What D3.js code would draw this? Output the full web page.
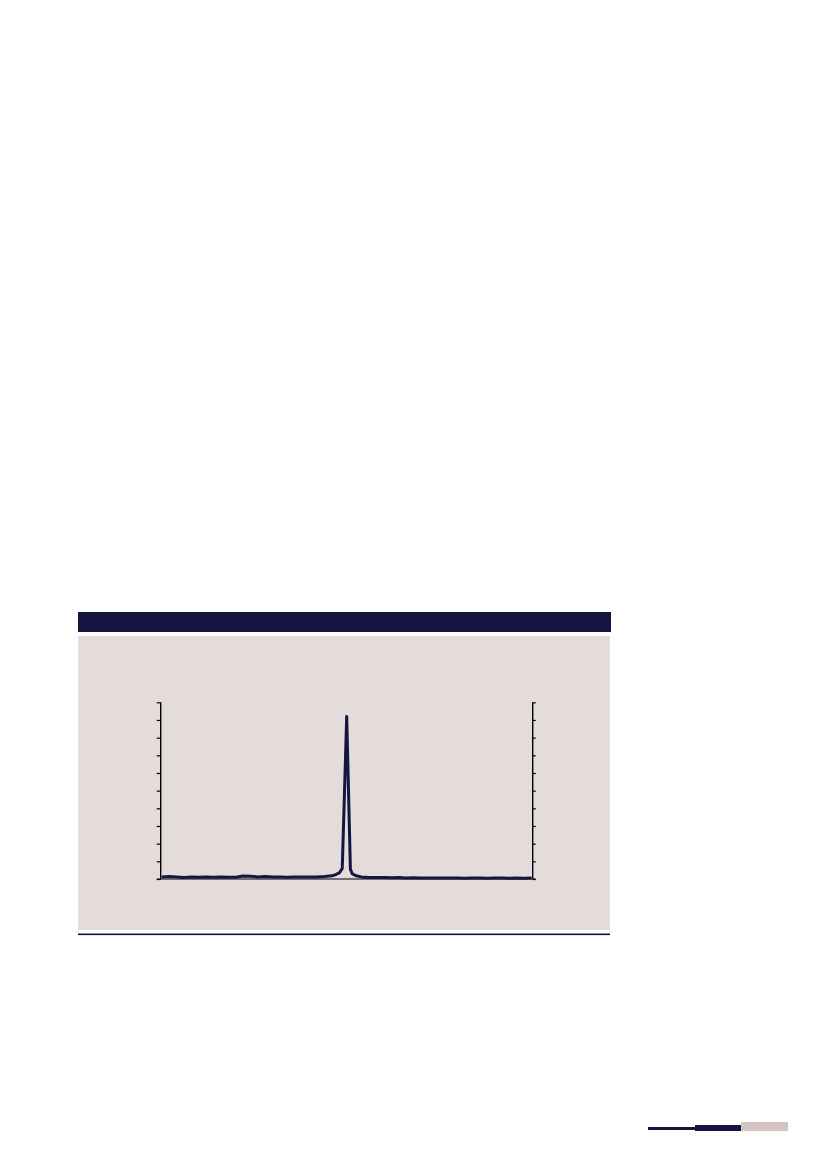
<!DOCTYPE html>
<html>
<head>
<meta charset="utf-8">
<script src="https://cdn.jsdelivr.net/npm/d3@7"></script>
<style>
    body { margin: 0; background: #ffffff; }
    svg { display: block; }
</style>
</head>
<body>
<svg width="827" height="1169"></svg>
<script>
//--------------------------DATA------------------------------------------------
// x position along the axis (0..100) and value in tick units (0..10)
var xValues = [
    0, 2, 4, 6, 8, 10, 12, 14, 16, 18, 20, 22, 24, 26, 28, 30, 32, 34, 36, 38,
    40, 42, 44, 46, 47, 48, 48.8, 50, 51, 51.5, 52.5, 54, 56, 58, 60, 62, 64, 66,
    68, 70, 72, 74, 76, 78, 80, 82, 84, 86, 88, 90, 92, 94, 96, 98, 100
];
var yValues = [
    0.12, 0.14, 0.12, 0.09, 0.12, 0.10, 0.12, 0.10, 0.11, 0.10, 0.10, 0.17, 0.15, 0.12, 0.14, 0.11, 0.12, 0.10, 0.11, 0.11,
    0.12, 0.12, 0.14, 0.18, 0.25, 0.35, 0.60, 9.20, 0.55, 0.30, 0.18, 0.12, 0.09, 0.08, 0.08, 0.07, 0.08, 0.06,
    0.07, 0.06, 0.05, 0.06, 0.05, 0.06, 0.05, 0.04, 0.06, 0.05, 0.04, 0.05, 0.06, 0.04, 0.05, 0.04, 0.05
];
var yTicks = [0, 1, 2, 3, 4, 5, 6, 7, 8, 9, 10];

var navy = "#15163f";
var panelColor = "#e3dcdb";
var pinkColor = "#d3c4c3";

//--------------------------FRAME-----------------------------------------------
var svg = d3.select("svg");

// title band
svg.append("rect")
    .attr("x", 78).attr("y", 612)
    .attr("width", 533).attr("height", 20)
    .style("fill", navy);

// panel
svg.append("rect")
    .attr("x", 78).attr("y", 636)
    .attr("width", 532).attr("height", 294)
    .style("fill", panelColor);

// rule under the panel
svg.append("rect")
    .attr("x", 78).attr("y", 933.5)
    .attr("width", 532).attr("height", 1.6)
    .style("fill", navy);

// footer decoration
svg.append("rect")
    .attr("x", 648).attr("y", 1127)
    .attr("width", 48).attr("height", 3)
    .style("fill", navy);
svg.append("rect")
    .attr("x", 695).attr("y", 1125)
    .attr("width", 46).attr("height", 6)
    .style("fill", navy);
svg.append("rect")
    .attr("x", 741).attr("y", 1122)
    .attr("width", 47).attr("height", 9)
    .style("fill", pinkColor);

//--------------------------CHART-----------------------------------------------
var plot = { left: 160.7, right: 532.7, top: 702.3, bottom: 879 };

var x = d3.scaleLinear().domain([-0.3, 100.3]).range([plot.left, plot.right]);
var y = d3.scaleLinear().domain([0, 10]).range([plot.bottom, plot.top]);

var data = xValues.map(function(d, i) { return { x: d, y: yValues[i] }; });

// left axis
svg.append("g")
    .attr("transform", "translate(" + plot.left + ",0)")
    .call(d3.axisLeft(y).tickValues(yTicks).tickSize(4).tickFormat(""))
    .call(function(g) {
        g.select(".domain").attr("d", "M0," + plot.top + "V" + plot.bottom);
    });

// right axis
svg.append("g")
    .attr("transform", "translate(" + plot.right + ",0)")
    .call(d3.axisRight(y).tickValues(yTicks).tickSize(3).tickFormat(""))
    .call(function(g) {
        g.select(".domain").attr("d", "M0," + plot.top + "V" + plot.bottom);
    });

// bottom axis line
svg.append("line")
    .attr("x1", plot.left - 4).attr("x2", plot.right + 3)
    .attr("y1", plot.bottom).attr("y2", plot.bottom)
    .style("stroke", "#000")
    .style("stroke-width", 1.2);

svg.selectAll(".tick line").style("stroke", "#000").style("stroke-width", 1.2);
svg.selectAll(".domain").style("stroke", "#000").style("stroke-width", 1.4);

var line = d3.line()
    .x(function(d) { return x(d.x); })
    .y(function(d) { return y(d.y); });

svg.append("path")
    .datum(data)
    .attr("d", line)
    .style("fill", "none")
    .style("stroke", navy)
    .style("stroke-width", 3)
    .style("stroke-linejoin", "round");
</script>
</body>
</html>
